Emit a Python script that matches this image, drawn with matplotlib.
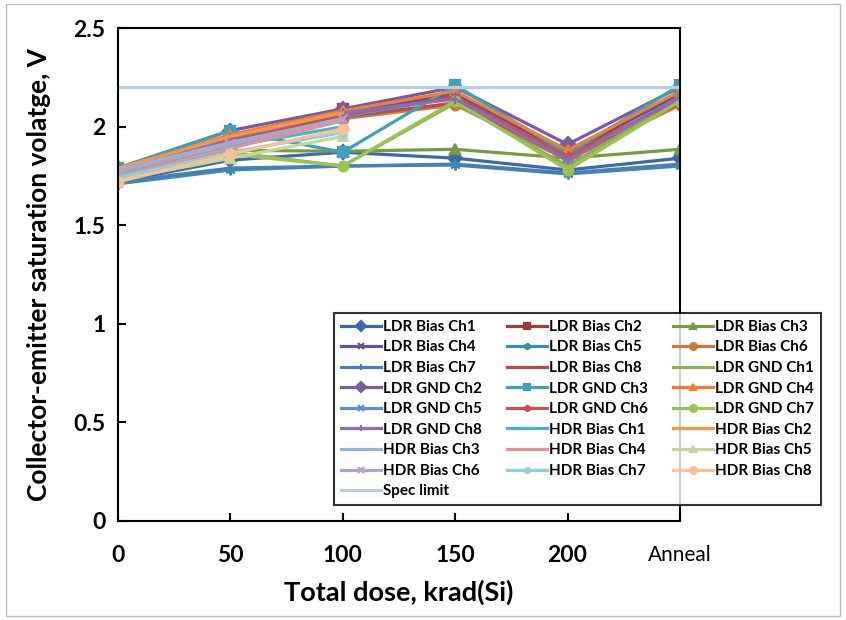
import matplotlib.pyplot as plt
from matplotlib.patches import Rectangle

plt.rcParams['font.family'] = ['Lato', 'DejaVu Sans']

""" Data """

dose_labels = ["0", "50", "100", "150", "200", "Anneal"]

ldr_bias = {
    "Ch1": [1.72, 1.83, 1.87, 1.84, 1.78, 1.84],
    "Ch2": [1.78, 1.95, 2.09, 2.17, 1.86, 2.17],
    "Ch3": [1.75, 1.88, 1.875, 1.885, 1.84, 1.885],
    "Ch4": [1.77, 1.93, 2.07, 2.16, 1.88, 2.16],
    "Ch5": [1.71, 1.78, 1.80, 1.805, 1.76, 1.80],
    "Ch6": [1.76, 1.90, 2.04, 2.11, 1.83, 2.11],
    "Ch7": [1.72, 1.79, 1.80, 1.81, 1.765, 1.81],
    "Ch8": [1.77, 1.92, 2.05, 2.12, 1.84, 2.12],
}
ldr_gnd = {
    "Ch1": [1.76, 1.87, 1.80, 2.12, 1.80, 2.14],
    "Ch2": [1.79, 1.98, 2.09, 2.20, 1.91, 2.20],
    "Ch3": [1.79, 1.98, 1.87, 2.21, 1.86, 2.21],
    "Ch4": [1.78, 1.96, 2.08, 2.18, 1.88, 2.18],
    "Ch5": [1.73, 1.89, 2.05, 2.15, 1.84, 2.15],
    "Ch6": [1.77, 1.93, 2.06, 2.15, 1.85, 2.14],
    "Ch7": [1.74, 1.86, 1.80, 2.13, 1.78, 2.13],
    "Ch8": [1.78, 1.94, 2.07, 2.14, 1.83, 2.15],
}
hdr_bias = {
    "Ch1": [1.76, 1.90, 2.00],
    "Ch2": [1.79, 1.95, 2.07],
    "Ch3": [1.78, 1.92, 2.04],
    "Ch4": [1.75, 1.89, 2.03],
    "Ch5": [1.73, 1.84, 1.95],
    "Ch6": [1.77, 1.91, 2.04],
    "Ch7": [1.74, 1.87, 1.97],
    "Ch8": [1.72, 1.86, 1.99],
}
spec_limit = [2.2, 2.2, 2.2, 2.2, 2.2, 2.2]

# colour, marker for each series in plotting order
styles = [
    ("#3C6AA6", "D"), ("#9E3D3A", "s"), ("#789A44", "^"), ("#6A5290", "x"),
    ("#3A8EA6", (6, 2, 0)), ("#D2773A", "o"), ("#4A7EBB", "|"), ("#B84A47", "_"),
    ("#8DB050", None), ("#7B5BA0", "D"), ("#3FA0B8", "s"), ("#E8823A", "^"),
    ("#5B8FD0", "x"), ("#C9504D", (6, 2, 0)), ("#9BC255", "o"), ("#8B6DB0", "|"),
    ("#4BB0CC", "_"), ("#F79646", None), ("#95B3D7", None), ("#D99694", None),
    ("#C3D69B", "^"), ("#B3A2C7", "x"), ("#93CDDD", (6, 2, 0)), ("#FAC090", "o"),
]

series = []
for ch, vals in ldr_bias.items():
    series.append(("LDR Bias " + ch, vals))
for ch, vals in ldr_gnd.items():
    series.append(("LDR GND " + ch, vals))
for ch, vals in hdr_bias.items():
    series.append(("HDR Bias " + ch, vals))

""" Plot """

fig = plt.figure(figsize=(8.46, 6.2), dpi=100)
ax = fig.add_axes([0.1395, 0.1597, 0.8038 - 0.1395, 0.9548 - 0.1597])

handles = []
for (name, vals), (col, mk) in zip(series, styles):
    x = list(range(len(vals)))
    h, = ax.plot(x, vals, color=col, marker=mk, markersize=7, markeredgewidth=1.6,
                 linewidth=2.3, label=name)
    handles.append(h)

h, = ax.plot(range(len(spec_limit)), spec_limit, color="#B9CDE5", linewidth=2.3,
             label="Spec limit")
handles.append(h)

ax.set_xlim(0, 5)
ax.set_ylim(0, 2.5)
ax.set_xticks(range(len(dose_labels)))
ax.set_xticklabels(dose_labels)
ax.set_yticks([0, 0.5, 1, 1.5, 2, 2.5])
ax.set_yticklabels(["0", "0.5", "1", "1.5", "2", "2.5"])
ax.tick_params(direction="in", length=6, width=1.5, labelsize=16.5, pad=9)
ax.tick_params(axis="x", pad=17)
for lab in ax.get_xticklabels() + ax.get_yticklabels():
    lab.set_fontweight("bold")
ax.get_xticklabels()[-1].set_fontweight("normal")
ax.get_xticklabels()[-1].set_fontsize(15)
for sp in ax.spines.values():
    sp.set_linewidth(1.5)
    sp.set_color("black")

ax.set_xlabel("Total dose, krad(Si)", fontsize=19.5, fontweight="bold", labelpad=10)
ax.set_ylabel("Collector-emitter saturation volatge, V", fontsize=19,
              fontweight="bold")
ax.yaxis.set_label_coords(-0.12, 0.5)

order = list(range(0, 25, 3)) + list(range(1, 25, 3)) + list(range(2, 25, 3))
leg = fig.legend([handles[i] for i in order], [handles[i].get_label() for i in order],
                 ncol=3, loc="upper left", bbox_to_anchor=(334 / 846, 1 - 313 / 620),
                 prop={"weight": "bold", "size": 11}, frameon=True, fancybox=False,
                 handlelength=2.6, handletextpad=0.15, columnspacing=1.65,
                 labelspacing=0.43, borderpad=0.45, borderaxespad=0, markerscale=0.7)
leg.get_frame().set_edgecolor("black")
leg.get_frame().set_linewidth(1.5)

fig.patches.append(Rectangle((0.007, 0.007), 0.986, 0.986, transform=fig.transFigure,
                             fill=False, edgecolor="#BBBBBB", linewidth=1))

fig.savefig("out.png", dpi=100)
